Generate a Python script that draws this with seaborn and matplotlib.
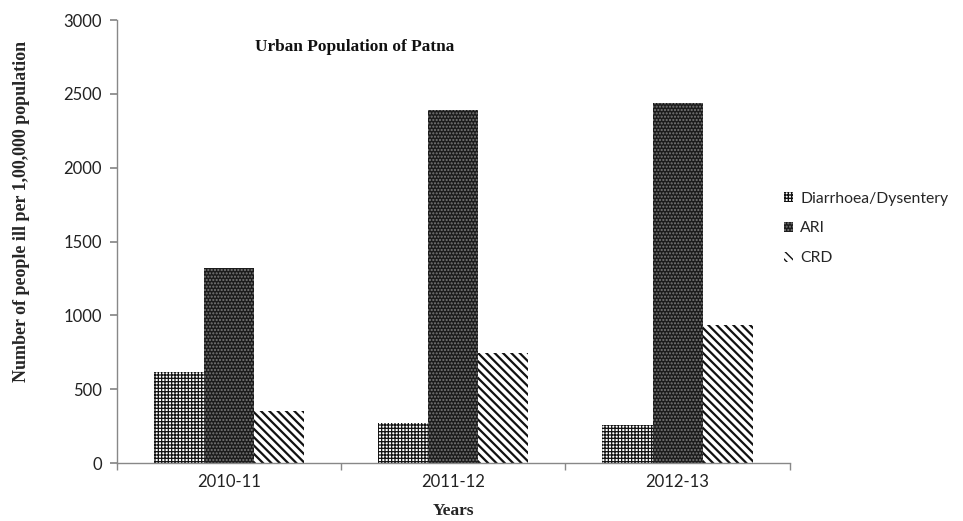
import matplotlib
matplotlib.use("Agg")
import matplotlib.pyplot as plt
from matplotlib.patches import Patch
import seaborn as sns
import pandas as pd

years = ["2010-11", "2011-12", "2012-13"]
diseases = ["Diarrhoea/Dysentery", "ARI", "CRD"]
diarrhoea = [616, 270, 257]
ari = [1320, 2390, 2437]
crd = [352, 745, 934]

df = pd.DataFrame({
    "Year": years * 3,
    "Disease": [diseases[0]] * 3 + [diseases[1]] * 3 + [diseases[2]] * 3,
    "Value": diarrhoea + ari + crd,
})

sns.set_theme(style="white")
plt.rcParams["hatch.linewidth"] = 1.0

fig = plt.figure(figsize=(9.63, 5.21), dpi=100)
ax = fig.add_axes([0.1215, 0.1113, 0.6985, 0.8503])

sns.barplot(data=df, x="Year", y="Value", hue="Disease", order=years,
            hue_order=diseases, width=0.67, ax=ax, legend=False,
            palette=["white", "white", "white"], saturation=1)

styles = {
    diseases[0]: dict(facecolor="white", edgecolor="#111111", hatch="+++++", hlw=0.9),
    diseases[1]: dict(facecolor="#1c1c1c", edgecolor="#7a7a7a", hatch=".....", hlw=1.0),
    diseases[2]: dict(facecolor="white", edgecolor="#111111", hatch="\\\\\\\\", hlw=1.6),
}
for cont, name in zip(ax.containers, diseases):
    st = styles[name]
    for bar in cont:
        bar.set_facecolor(st["facecolor"])
        bar.set_edgecolor(st["edgecolor"])
        bar.set_hatch(st["hatch"])
        bar.set_hatch_linewidth(st["hlw"])
        bar.set_linewidth(0)

ax.set_xlim(-0.5, 2.5)
ax.set_ylim(0, 3000)
ax.set_yticks([0, 500, 1000, 1500, 2000, 2500, 3000])

tick_font = "Lato"
for lab in ax.get_yticklabels() + ax.get_xticklabels():
    lab.set_fontfamily(tick_font)
    lab.set_fontsize(12)
    lab.set_color("#222222")

ax.set_xticks([0, 1, 2])
ax.set_xticks([-0.5, 0.5, 1.5, 2.5], minor=True)
ax.tick_params(axis="x", which="major", length=0, pad=8)
ax.tick_params(axis="x", which="minor", length=5, color="#888888", direction="out", bottom=True)
ax.tick_params(axis="y", which="major", length=5, color="#888888", direction="out", left=True, pad=6)

for side in ["top", "right"]:
    ax.spines[side].set_visible(False)
for side in ["left", "bottom"]:
    ax.spines[side].set_color("#888888")
    ax.spines[side].set_linewidth(1)

ax.set_xlabel("Years", fontfamily="Liberation Serif", fontweight="bold",
              fontsize=12.5, labelpad=9)
ax.set_ylabel("Number of people ill per 1,00,000 population",
              fontfamily="Liberation Serif", fontweight="bold", fontsize=13)
ax.yaxis.set_label_coords(-0.13, 0.567)

ax.text(0.205, 0.939, "Urban Population of Patna", transform=ax.transAxes,
        fontfamily="Liberation Serif", fontweight="bold", fontsize=12.4,
        va="center", ha="left", color="#111111")

handles = []
for d in diseases:
    st = styles[d]
    h = Patch(facecolor=st["facecolor"], edgecolor=st["edgecolor"],
              hatch=st["hatch"], linewidth=0)
    h.set_hatch_linewidth(min(st["hlw"], 1.2))
    handles.append(h)
leg = fig.legend(handles, diseases, loc="upper left", bbox_to_anchor=(0.814, 0.632),
                 frameon=False, prop={"family": tick_font, "size": 11.3},
                 handlelength=0.6, handleheight=0.6, handletextpad=0.45,
                 labelspacing=1.0, borderaxespad=0, borderpad=0)

fig.savefig("out.png", dpi=100)
